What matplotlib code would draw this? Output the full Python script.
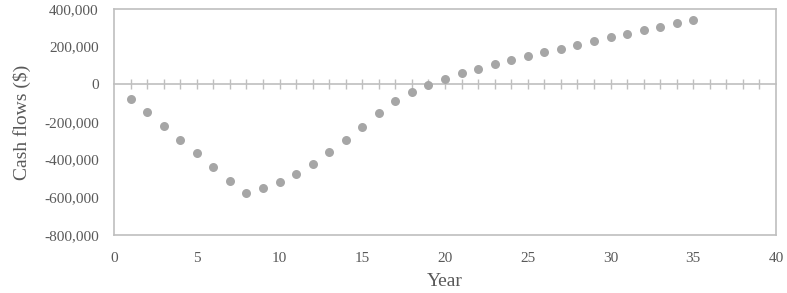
import matplotlib
matplotlib.use("Agg")
import matplotlib.pyplot as plt
from matplotlib.ticker import FuncFormatter

years = list(range(1, 36))
cash_flows = [-76000, -148000, -222000, -293000, -364000, -437000, -512000, -576000,
              -553000, -519000, -476000, -421000, -361000, -293000, -224000, -153000,
              -91000, -43000, -5000, 28000, 59000, 84000, 108000, 130000, 151000,
              171000, 190000, 210000, 229000, 249000, 268000, 286000, 304000, 325000,
              343000]
x_ticks = [0, 5, 10, 15, 20, 25, 30, 35, 40]
y_ticks = [-800000, -600000, -400000, -200000, 0, 200000, 400000]

plt.rcParams['font.family'] = ['Liberation Serif', 'DejaVu Serif']
text_color = '#595959'
frame_color = '#bfbfbf'

fig = plt.figure(figsize=(7.87, 2.93), dpi=100)
ax = fig.add_axes([114/787, 1 - 235/293, (776-114)/787, (235-9)/293])

ax.scatter(years, cash_flows, s=42, color='#a6a6a6', zorder=3, linewidths=0)

ax.set_xlim(0, 40)
ax.set_ylim(-800000, 400000)
ax.set_xticks(x_ticks)
ax.set_yticks(y_ticks)
ax.yaxis.set_major_formatter(FuncFormatter(lambda v, p: f"{int(v):,}"))
ax.tick_params(axis='both', length=0, labelsize=11, colors=text_color)
ax.tick_params(axis='x', pad=12)
ax.tick_params(axis='y', pad=11)
for sp in ax.spines.values():
    sp.set_color(frame_color)
    sp.set_linewidth(1.2)

ax.set_xlabel('Year', fontsize=14, color=text_color, labelpad=6)
ax.set_ylabel('Cash flows ($)', fontsize=14, color=text_color, labelpad=9)

# zero line with crossing ticks
ymin, ymax = ax.get_ylim()
zero_frac = (0 - ymin) / (ymax - ymin)
sec = ax.secondary_xaxis(zero_frac)
for sp in sec.spines.values():
    sp.set_color(frame_color)
    sp.set_linewidth(1.2)
sec.set_xticks(list(range(1, 40)))
sec.tick_params(axis='x', which='both', direction='inout', length=7, width=1,
                color=frame_color, labelbottom=False, labeltop=False)
sec.set_zorder(2)

fig.savefig('out.png', dpi=100)
